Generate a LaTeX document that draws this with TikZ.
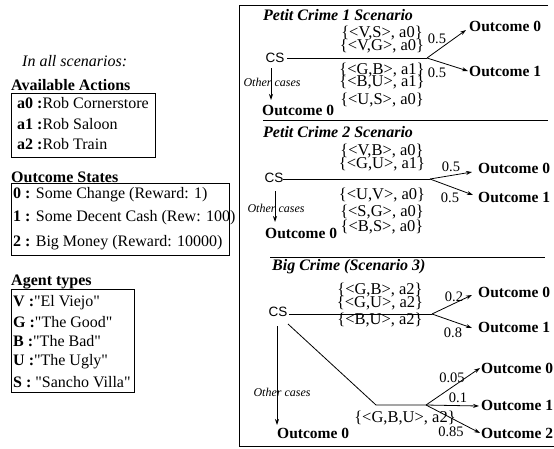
\documentclass[tikz,border=0pt]{standalone}
\usepackage{fontspec}
\setmainfont{Liberation Serif}
\newfontfamily\csfont{Liberation Sans}
\newfontfamily\qfont{Liberation Serif}[Ligatures=TeXOff]
\usetikzlibrary{arrows.meta}
\newcommand{\qq}{{\qfont"}}
\tikzset{
  txt/.style={font=\fontsize{16}{16}\selectfont, inner sep=0, anchor=west},
  hdr/.style={font=\fontsize{16}{16}\selectfont\bfseries, inner sep=0, anchor=west},
  outc/.style={font=\fontsize{15.5}{15.5}\selectfont\bfseries, inner sep=0, anchor=west},
  ttl/.style={font=\fontsize{16}{16}\selectfont\bfseries\itshape, inner sep=0, anchor=west},
  lab/.style={font=\fontsize{16.5}{16.5}\selectfont, inner sep=0},
  prob/.style={font=\fontsize{14.5}{14.5}\selectfont, inner sep=0},
  oth/.style={font=\fontsize{12}{12}\selectfont\itshape, inner sep=0},
  csn/.style={font=\csfont\fontsize{13.5}{13.5}\selectfont, inner sep=0},
  conn/.style={line width=0.8pt},
  arr/.style={line width=0.8pt, -{Stealth[length=6pt,width=4pt]}},
  frame/.style={line width=0.9pt},
}
\begin{document}
\begin{tikzpicture}[x=1pt,y=-1pt]
\useasboundingbox (0,0) rectangle (554,448);
% ---------- left legend ----------
\node[txt, font=\fontsize{16}{16}\selectfont\itshape] (all) at (22,61) {In all scenarios:};
\node[hdr] (acth) at (11,85) {Available Actions};
\draw[frame] (11,93) rectangle (155,157);
\node[txt] (a0) at (17,103) {\textbf{a0 :}Rob Cornerstore};
\node[txt] (a1) at (17,124) {\textbf{a1 :}Rob Saloon};
\node[txt] (a2) at (17,144) {\textbf{a2 :}Rob Train};
\node[hdr] (osh) at (11,177) {Outcome States};
\draw[frame] (11,183) rectangle (229,255);
\node[txt] (s0) at (13,195) {\textbf{0 :} Some Change (Reward: 1)};
\node[txt] (s1) at (13,218) {\textbf{1 :} Some Decent Cash (Rew: 100)};
\node[txt] (s2) at (13,243) {\textbf{2 :} Big Money (Reward: 10000)};
\node[hdr] (agh) at (11,282) {Agent types};
\draw[frame] (11,289) rectangle (134,392);
\node[txt] (tv) at (13,303) {\textbf{V :}\qq El Viejo\qq};
\node[txt] (tg) at (13,322) {\textbf{G :}\qq The Good\qq};
\node[txt] (tb) at (13,341) {\textbf{B :}\qq The Bad\qq};
\node[txt] (tu) at (13,362) {\textbf{U :}\qq The Ugly\qq};
\node[txt] (ts) at (13,382) {\textbf{S :} \qq Sancho Villa\qq};
% ---------- right panel frame ----------
\draw[frame] (548,5) -- (239,5) -- (239,446) -- (554,446);
\draw[frame] (263,120) -- (548,120);
\draw[frame] (270,257) -- (545,257);
% ---------- scenario 1 ----------
\node[ttl] (ti1) at (263,15) {Petit Crime 1 Scenario};
\node[csn] (cs1) at (275,58) {CS};
\coordinate (st1) at (287,58);
\coordinate (b1) at (427,58);
\draw[conn] (st1) -- (b1);
\node[outc] (o10) at (469,26) {Outcome 0};
\node[outc] (o11) at (469,71) {Outcome 1};
\coordinate (t10) at (466,30);
\coordinate (t11) at (468,71);
\draw[arr] (b1) -- (t10);
\draw[arr] (b1) -- (t11);
\node[prob] (p10) at (437,39) {0.5};
\node[prob] (p11) at (437,73) {0.5};
\node[lab] (l11) at (382,33) {\{<V,S>, a0\}};
\node[lab] (l12) at (382,46) {\{<V,G>, a0\}};
\node[lab] (l13) at (382,70) {\{<G,B>, a1\}};
\node[lab] (l14) at (382,82) {\{<B,U>, a1\}};
\node[lab] (l15) at (382,100) {\{<U,S>, a0\}};
\node[oth] (oc1) at (272,82) {Other cases};
\node[outc] (od1) at (262,110) {Outcome 0};
\draw[arr] (271,68) -- (271,100);
% ---------- scenario 2 ----------
\node[ttl] (ti2) at (263,132) {Petit Crime 2 Scenario};
\node[csn] (cs2) at (274,178) {CS};
\coordinate (st2) at (283,179);
\coordinate (b2) at (430,179);
\draw[conn] (st2) -- (b2);
\node[outc] (o20) at (478,168) {Outcome 0};
\node[outc] (o21) at (478,197) {Outcome 1};
\coordinate (t20) at (472,172);
\coordinate (t21) at (473,195);
\draw[arr] (b2) -- (t20);
\draw[arr] (b2) -- (t21);
\node[prob] (p20) at (451,167) {0.5};
\node[prob] (p21) at (450,198) {0.5};
\node[lab] (l21) at (382,151) {\{<V,B>, a0\}};
\node[lab] (l22) at (382,164) {\{<G,U>, a1\}};
\node[lab] (l23) at (382,195) {\{<U,V>, a0\}};
\node[lab] (l24) at (382,212) {\{<S,G>, a0\}};
\node[lab] (l25) at (382,227) {\{<B,S>, a0\}};
\node[oth] (oc2) at (276,208) {Other cases};
\node[outc] (od2) at (265,233) {Outcome 0};
\draw[arr] (275,191) -- (275,222);
% ---------- scenario 3 ----------
\node[ttl] (ti3) at (272,267) {Big Crime (Scenario 3)};
\node[csn] (cs3) at (278,312) {CS};
\coordinate (st3) at (289,314);
\coordinate (b3) at (432,314);
\draw[conn] (st3) -- (b3);
\node[outc] (o30) at (478,292) {Outcome 0};
\node[outc] (o31) at (478,327) {Outcome 1};
\coordinate (t30) at (472,295);
\coordinate (t31) at (472,328);
\draw[arr] (b3) -- (t30);
\draw[arr] (b3) -- (t31);
\node[prob] (p30) at (454,297) {0.2};
\node[prob] (p31) at (453,333) {0.8};
\node[lab] (l31) at (380,290) {\{<G,B>, a2\}};
\node[lab] (l32) at (380,303) {\{<G,U>, a2\}};
\node[lab] (l33) at (380,320) {\{<B,U>, a2\}};
\coordinate (dg) at (288,324);
\coordinate (c3) at (376,405);
\coordinate (b4) at (426,405);
\draw[conn] (dg) -- (c3) -- (b4);
\node[outc] (o40) at (481,368) {Outcome 0};
\node[outc] (o41) at (481,405) {Outcome 1};
\node[outc] (o42) at (481,433) {Outcome 2};
\coordinate (t40) at (480,368);
\coordinate (t41) at (479,406);
\coordinate (t42) at (480,433);
\draw[arr] (b4) -- (t40);
\draw[arr] (b4) -- (t41);
\draw[arr] (b4) -- (t42);
\node[prob] (p40) at (452,378) {0.05};
\node[prob] (p41) at (458,398) {0.1};
\node[prob] (p42) at (451,432) {0.85};
\node[lab] (l41) at (405,418) {\{<G,B,U>, a2\}};
\node[oth] (oc3) at (282,392) {Other cases};
\node[outc] (od3) at (277,433) {Outcome 0};
\draw[arr] (277,326) -- (277,425);
\end{tikzpicture}
\end{document}
